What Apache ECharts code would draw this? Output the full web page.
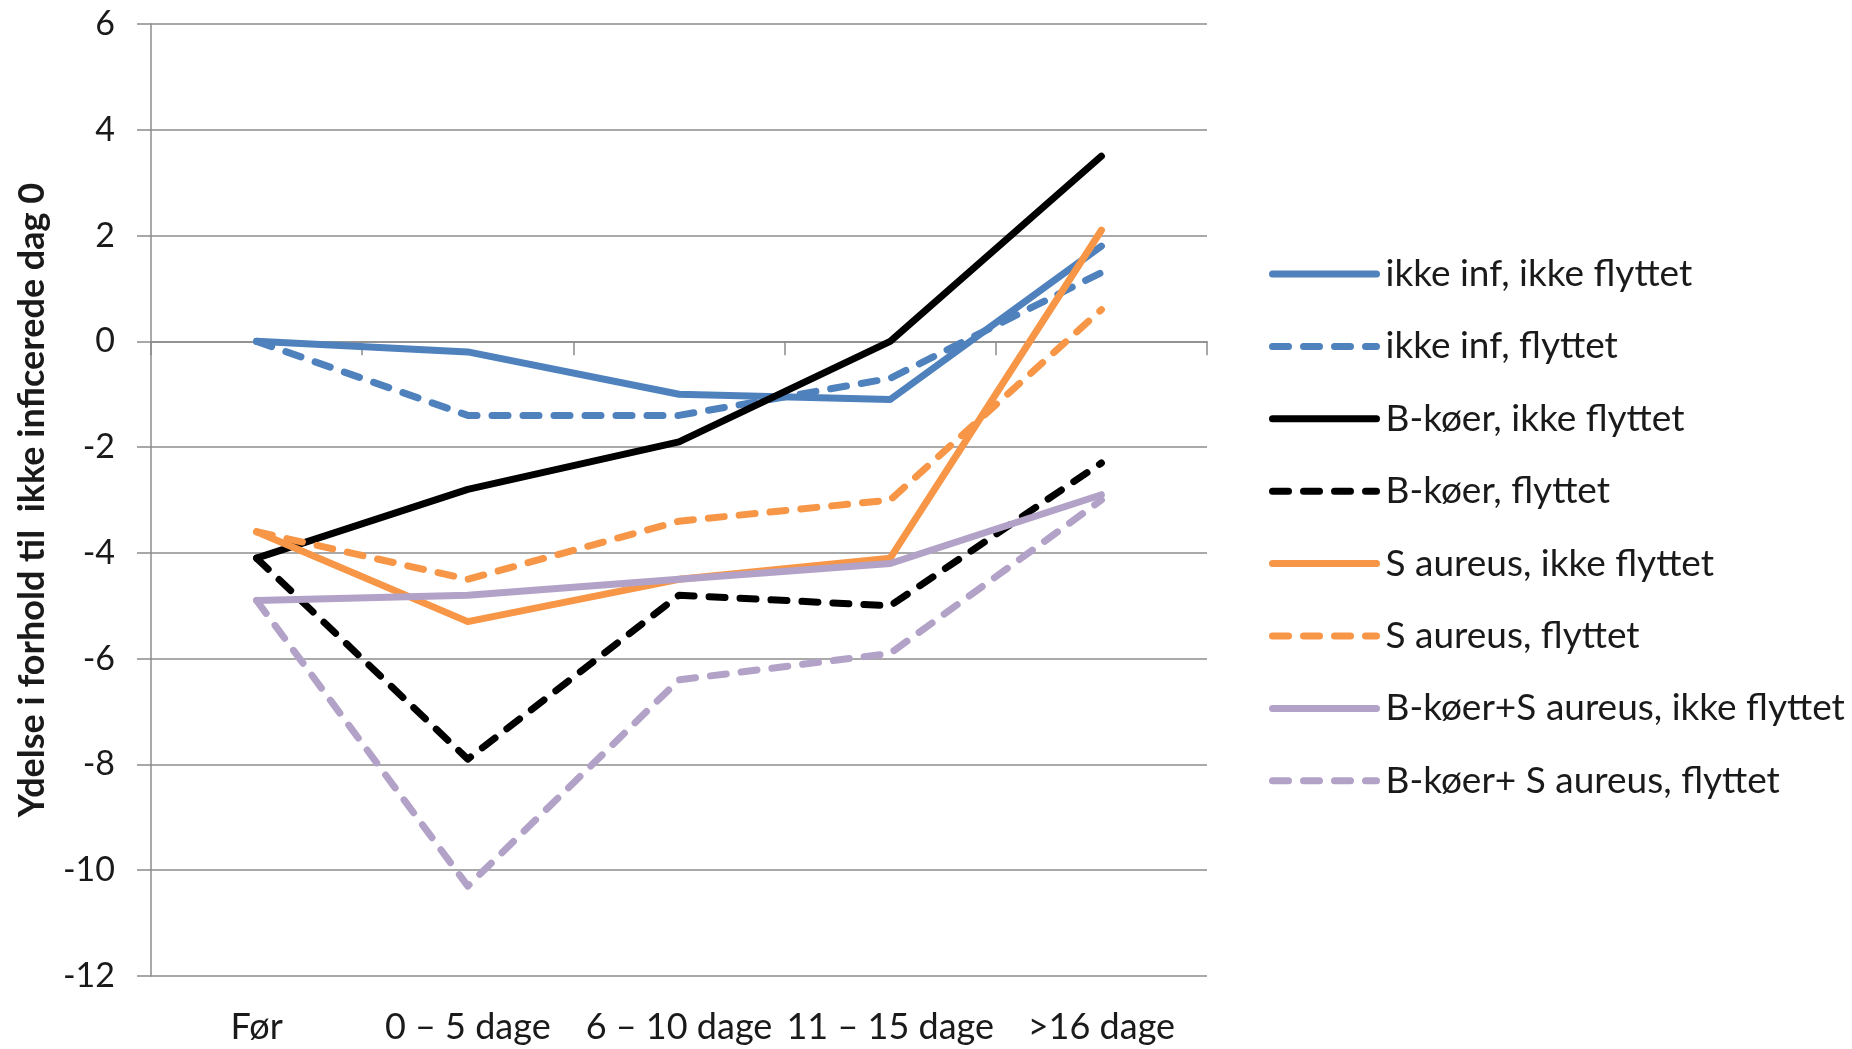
<!DOCTYPE html>
<html>
<head>
<meta charset="utf-8">
<script src="https://cdn.jsdelivr.net/npm/echarts@6/dist/echarts.min.js"></script>
<style>
html,body{margin:0;padding:0;background:#fff;}
#c{width:1852px;height:1049px;}
</style>
</head>
<body>
<div id="c"></div>
<script>
// ---- data ----
const categories = ['Før', '0 – 5 dage', '6 – 10 dage', '11 – 15 dage', '>16 dage'];
const yTicks = { min: -12, max: 6, interval: 2 };
const yTitle = 'Ydelse i forhold til  ikke inficerede dag 0';

const nameIkkeInfIkkeFlyttet = 'ikke inf, ikke flyttet';
const nameIkkeInfFlyttet = 'ikke inf, flyttet';
const nameBIkkeFlyttet = 'B-køer, ikke flyttet';
const nameBFlyttet = 'B-køer, flyttet';
const nameSIkkeFlyttet = 'S aureus, ikke flyttet';
const nameSFlyttet = 'S aureus, flyttet';
const nameBSIkkeFlyttet = 'B-køer+S aureus, ikke flyttet';
const nameBSFlyttet = 'B-køer+ S aureus, flyttet';

const ikkeInfIkkeFlyttet = [0, -0.2, -1.0, -1.1, 1.8];
const ikkeInfFlyttet     = [0, -1.4, -1.4, -0.7, 1.3];
const bIkkeFlyttet       = [-4.1, -2.8, -1.9, 0.0, 3.5];
const bFlyttet           = [-4.1, -7.9, -4.8, -5.0, -2.3];
const sIkkeFlyttet       = [-3.6, -5.3, -4.5, -4.1, 2.1];
const sFlyttet           = [-3.6, -4.5, -3.4, -3.0, 0.6];
const bsIkkeFlyttet      = [-4.9, -4.8, -4.5, -4.2, -2.9];
const bsFlyttet          = [-4.9, -10.3, -6.4, -5.9, -3.0];

// ---- styles ----
const BLUE = '#4F81BD', BLACK = '#000000', ORANGE = '#F79646', LAV = '#B3A2C7';
const GRID = '#8c8c8c';
const TEXT = '#1a1a1a';
const FONT = 'Lato';
const DASH = [16, 15];
const LW = 7;

function mk(name, data, color, dashed) {
  return {
    name: name, type: 'line', data: data, symbol: 'none', smooth: false,
    xAxisIndex: 0, yAxisIndex: 0,
    itemStyle: { color: color },
    lineStyle: { color: color, width: LW, type: dashed ? DASH : 'solid', cap: 'round', join: 'round' }
  };
}

const series = [
  mk(nameIkkeInfIkkeFlyttet, ikkeInfIkkeFlyttet, BLUE, false),
  mk(nameIkkeInfFlyttet, ikkeInfFlyttet, BLUE, true),
  mk(nameBIkkeFlyttet, bIkkeFlyttet, BLACK, false),
  mk(nameBFlyttet, bFlyttet, BLACK, true),
  mk(nameSIkkeFlyttet, sIkkeFlyttet, ORANGE, false),
  mk(nameSFlyttet, sFlyttet, ORANGE, true),
  mk(nameBSIkkeFlyttet, bsIkkeFlyttet, LAV, false),
  mk(nameBSFlyttet, bsFlyttet, LAV, true)
];

const chart = echarts.init(document.getElementById('c'), null, { renderer: 'canvas' });
chart.setOption({
  animation: false,
  backgroundColor: '#ffffff',
  grid: { left: 151, top: 24, width: 1056, height: 952, containLabel: false },
  legend: {
    orient: 'vertical', left: 1264, top: 249,
    itemWidth: 104, itemHeight: 20, itemGap: 32.4,
    itemStyle: { color: 'rgba(0,0,0,0)', borderWidth: 0, opacity: 0 },
    lineStyle: { width: LW, cap: 'round', join: 'round' },
    textStyle: { fontFamily: FONT, fontSize: 37, color: TEXT, lineHeight: 40, padding: [0, 0, 0, 4] },
    data: series.map(s => s.name)
  },
  xAxis: [
    {
      type: 'category', data: categories, boundaryGap: true, position: 'bottom',
      axisLine: { show: true, onZero: true, lineStyle: { color: GRID, width: 1.5 } },
      axisTick: { show: true, length: 14, lineStyle: { color: GRID, width: 1.5 } },
      axisLabel: { show: false },
      splitLine: { show: false }
    },
    {
      type: 'category', data: categories, boundaryGap: true, position: 'bottom',
      axisLine: { show: false, onZero: false },
      axisTick: { show: false },
      axisLabel: { show: true, interval: 0, margin: 33, fontFamily: FONT, fontSize: 36, color: TEXT },
      splitLine: { show: false }
    }
  ],
  yAxis: {
    type: 'value', min: yTicks.min, max: yTicks.max, interval: yTicks.interval,
    name: yTitle, nameLocation: 'middle', nameRotate: 90, nameGap: 101,
    nameTextStyle: { fontFamily: FONT, fontWeight: 'bold', fontSize: 36, color: TEXT },
    axisLine: { show: true, onZero: false, lineStyle: { color: GRID, width: 1.5 } },
    axisTick: { show: true, length: 14, lineStyle: { color: GRID, width: 1.5 } },
    axisLabel: { margin: 36, fontFamily: FONT, fontSize: 34, color: TEXT },
    splitLine: { show: true, lineStyle: { color: GRID, width: 1.5 } }
  },
  series: series
});
</script>
</body>
</html>
